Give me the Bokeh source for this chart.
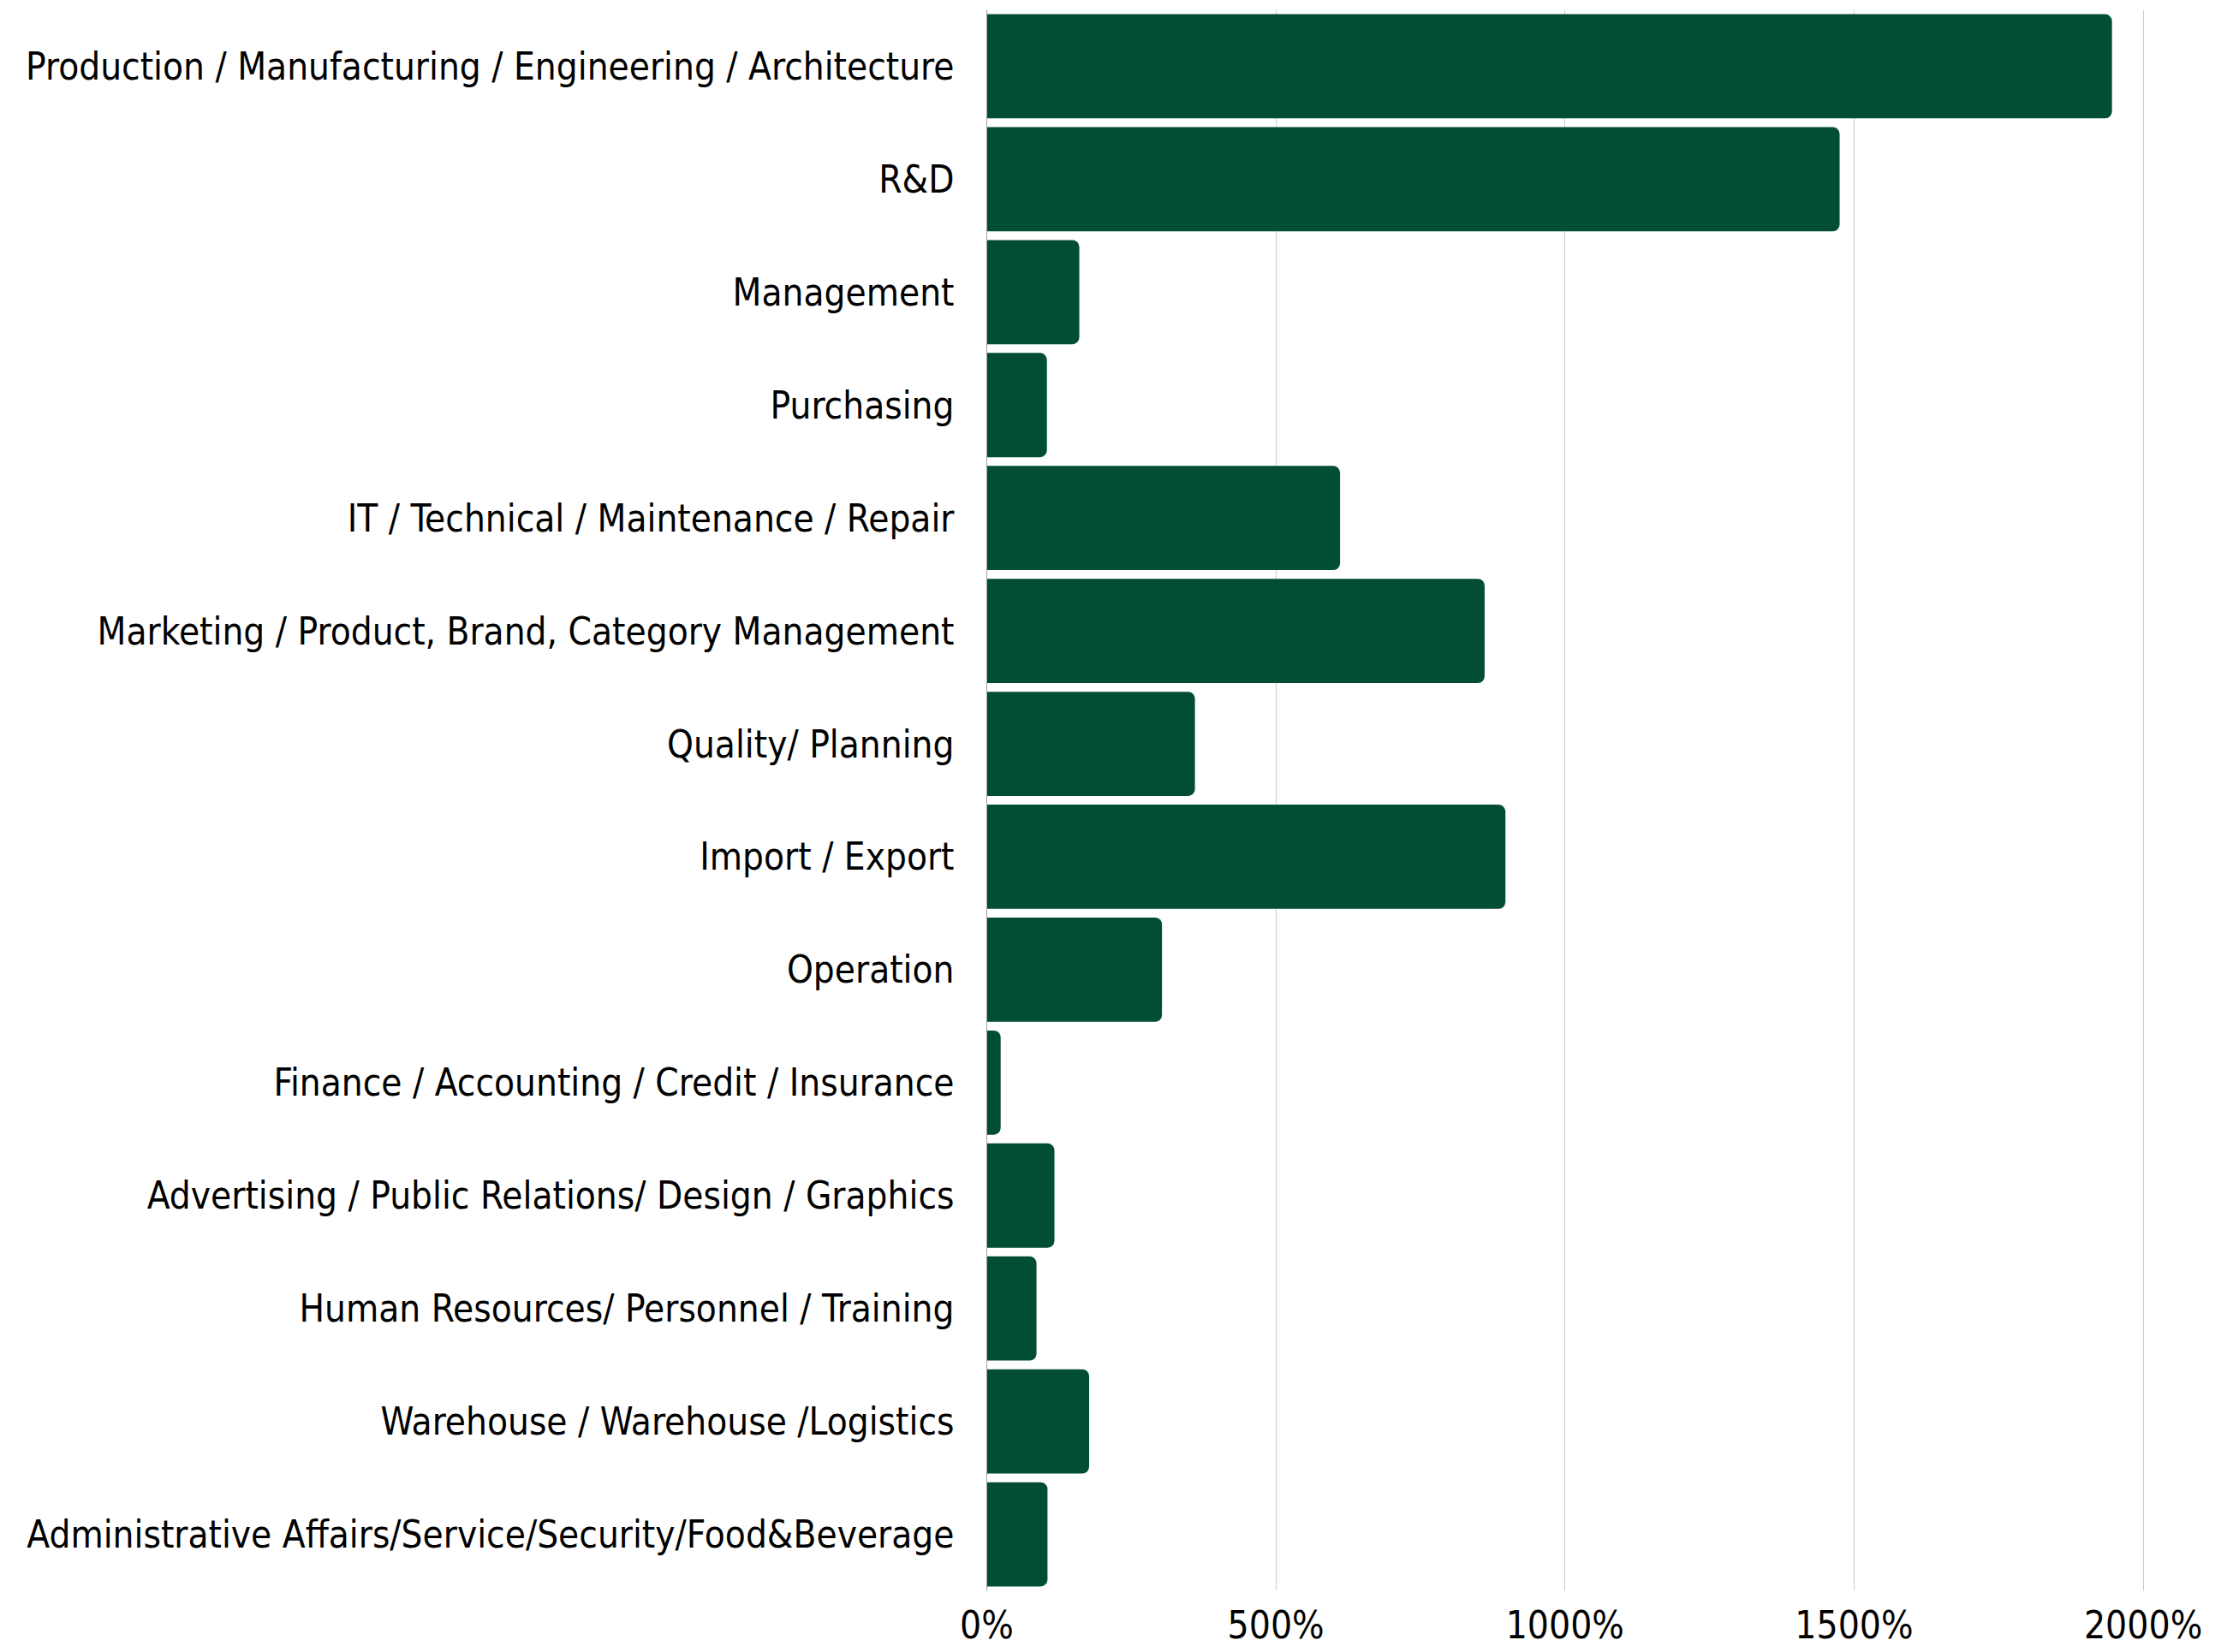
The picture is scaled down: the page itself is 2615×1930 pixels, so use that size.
from bokeh.plotting import figure
from bokeh.models import Range1d, FactorRange, FixedTicker, PrintfTickFormatter, ColumnDataSource
from bokeh.embed import file_html
from bokeh.resources import INLINE

categories = [
    "Production / Manufacturing / Engineering / Architecture",
    "R&D",
    "Management",
    "Purchasing",
    "IT / Technical / Maintenance / Repair",
    "Marketing / Product, Brand, Category Management",
    "Quality/ Planning",
    "Import / Export",
    "Operation",
    "Finance / Accounting / Credit / Insurance",
    "Advertising / Public Relations/ Design / Graphics",
    "Human Resources/ Personnel / Training",
    "Warehouse / Warehouse /Logistics",
    "Administrative Affairs/Service/Security/Food&Beverage",
]
values = [1946, 1475, 160, 104, 611, 861, 360, 897, 303, 24, 117, 86, 177, 105]
x_ticks = [0, 500, 1000, 1500, 2000]

FONT = "DejaVu Sans Condensed"

src = ColumnDataSource(dict(cat=categories, val=values))

p = figure(
    width=2599, height=1926,
    y_range=FactorRange(factors=list(reversed(categories)), range_padding=0),
    x_range=Range1d(0, 2085),
    output_backend="svg", toolbar_location=None,
    min_border_left=1152, min_border_right=39, min_border_top=11,
)
p.hbar(y="cat", right="val", left=0, height=0.923, source=src,
       fill_color="#024e34", line_color=None,
       border_radius=(0, 8, 8, 0))

p.outline_line_color = None
p.background_fill_color = "white"
p.border_fill_color = "white"

p.ygrid.grid_line_color = None
p.xgrid.grid_line_color = "#cccccc"
p.xgrid.grid_line_width = 1
p.xgrid.ticker = FixedTicker(ticks=x_ticks)

p.xaxis.ticker = FixedTicker(ticks=x_ticks)
p.xaxis.formatter = PrintfTickFormatter(format="%d%%")
p.xaxis.axis_line_color = None
p.xaxis.major_tick_line_color = None
p.xaxis.minor_tick_line_color = None
p.xaxis.major_label_text_font = FONT
p.xaxis.major_label_text_font_size = "44px"
p.xaxis.major_label_text_color = "#000000"
p.xaxis.major_label_standoff = 8

p.yaxis.axis_line_color = "#a0a0a0"
p.yaxis.major_tick_line_color = None
p.yaxis.minor_tick_line_color = None
p.yaxis.major_label_text_font = FONT
p.yaxis.major_label_text_font_size = "43.7px"
p.yaxis.major_label_text_color = "#000000"
p.yaxis.major_label_standoff = 32

open("out.html", "w").write(file_html(p, INLINE))
